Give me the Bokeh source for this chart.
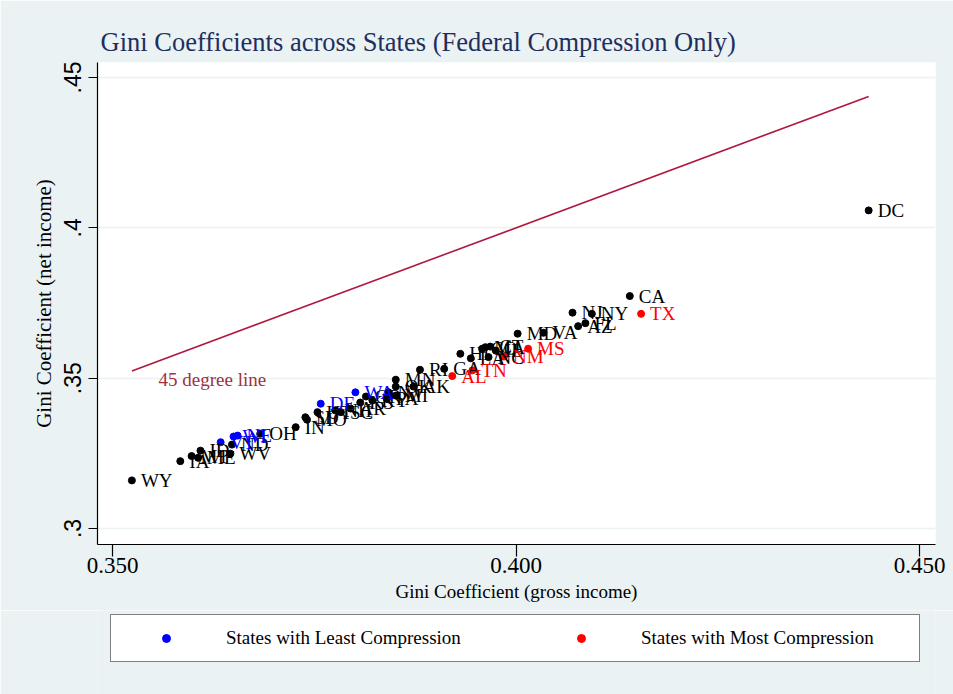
from bokeh.plotting import figure
from bokeh.layouts import column
from bokeh.models import Range1d, FixedTicker, Legend, LegendItem, ColumnDataSource
from bokeh.core.properties import value
from bokeh.embed import file_html
from bokeh.resources import INLINE

# ---------------- data ----------------
states = ["WY", "IA", "MT", "ME", "ID", "WV", "ND", "VT", "WI", "NE",
          "OH", "IN", "SD", "MO", "UT", "DE", "NH", "SC", "AR", "WA",
          "KS", "OR", "KY", "PA", "NV", "MI", "OK", "MN", "AK", "RI",
          "GA", "AL", "TN", "HI", "LA", "NC", "CO", "MA", "CT", "IL",
          "NM", "MS", "MD", "VA", "NJ", "NY", "AZ", "FL", "CA", "TX", "DC"]
gini_gross = [0.3524, 0.3584, 0.3598, 0.3606, 0.3609, 0.3646, 0.3648, 0.3634, 0.3650, 0.3655,
              0.3683, 0.3727, 0.3739, 0.3741, 0.3754, 0.3758, 0.3776, 0.3783, 0.3795, 0.3801,
              0.3807, 0.3814, 0.3822, 0.3840, 0.3842, 0.3851, 0.3851, 0.3851, 0.3873, 0.3881,
              0.3911, 0.3921, 0.3946, 0.3931, 0.3944, 0.3966, 0.3958, 0.3962, 0.3968, 0.3975,
              0.3985, 0.4015, 0.4002, 0.4034, 0.4070, 0.4094, 0.4077, 0.4086, 0.4141, 0.4155, 0.4437]
gini_net = [0.3160, 0.3224, 0.3241, 0.3235, 0.3259, 0.3249, 0.3279, 0.3287, 0.3306, 0.3309,
            0.3315, 0.3337, 0.3370, 0.3362, 0.3387, 0.3415, 0.3393, 0.3387, 0.3399, 0.3453,
            0.3419, 0.3439, 0.3426, 0.3431, 0.3453, 0.3442, 0.3472, 0.3495, 0.3472, 0.3528,
            0.3531, 0.3507, 0.3526, 0.3581, 0.3566, 0.3570, 0.3598, 0.3603, 0.3605, 0.3592,
            0.3572, 0.3598, 0.3648, 0.3651, 0.3718, 0.3714, 0.3673, 0.3683, 0.3773, 0.3714, 0.4058]
least_compression = ["VT", "WI", "NE", "DE", "WA"]
most_compression = ["AL", "TN", "NM", "MS", "TX"]

x_ticks = [0.35, 0.40, 0.45]
x_tick_labels = ["0.350", "0.400", "0.450"]
y_ticks = [0.30, 0.35, 0.40, 0.45]
y_tick_labels = [".3", ".35", ".4", ".45"]

title_text = "Gini Coefficients across States (Federal Compression Only)"
x_title = "Gini Coefficient (gross income)"
y_title = "Gini Coefficient (net income)"
legend_labels = ["States with Least Compression", "States with Most Compression"]
line_label = "45 degree line"

# ---------------- styling ----------------
BG = "#eaf2f3"
SERIF = "Liberation Serif"
SANS = "Liberation Sans"
BLUE = "#0000ff"
RED = "#ff0000"
LINE_C = "#b0173f"


def subset(keep):
    idx = [i for i, s in enumerate(states) if keep(s)]
    return dict(x=[gini_gross[i] for i in idx], y=[gini_net[i] for i in idx],
                state=[states[i] for i in idx])


src_other = ColumnDataSource(subset(lambda s: s not in least_compression and s not in most_compression))
src_least = ColumnDataSource(subset(lambda s: s in least_compression))
src_most = ColumnDataSource(subset(lambda s: s in most_compression))

p = figure(width=953, height=610, output_backend="svg", toolbar_location=None,
           x_range=Range1d(0.34814, 0.45198), y_range=Range1d(0.29468, 0.45499),
           min_border_left=97, min_border_right=18, min_border_top=62, min_border_bottom=66)
p.border_fill_color = BG
p.background_fill_color = "white"
p.outline_line_color = None

# title
p.title.text = title_text
p.title.text_font = SERIF
p.title.text_font_size = "26.5px"
p.title.text_font_style = "normal"
p.title.text_color = "#1e2f5e"
p.title.align = "left"
p.title.offset = 3
p.title.standoff = 12

# grid
p.xgrid.grid_line_color = None
p.ygrid.ticker = FixedTicker(ticks=y_ticks)
p.ygrid.grid_line_color = BG
p.ygrid.grid_line_width = 1.5

# axes
p.xaxis.ticker = FixedTicker(ticks=x_ticks)
p.xaxis.major_label_overrides = {t: l for t, l in zip(x_ticks, x_tick_labels)}
p.yaxis.ticker = FixedTicker(ticks=y_ticks)
p.yaxis.major_label_overrides = {t: l for t, l in zip(y_ticks, y_tick_labels)}
for ax in (p.xaxis, p.yaxis):
    ax.axis_line_color = "black"
    ax.axis_line_width = 1.2
    ax.major_tick_line_color = "black"
    ax.major_tick_line_width = 1.2
    ax.major_tick_in = 0
    ax.minor_tick_line_color = None
    ax.axis_label_text_font = SERIF
    ax.axis_label_text_font_style = "normal"
    ax.axis_label_text_color = "black"
    ax.major_label_text_color = "black"
p.xaxis.major_tick_out = 12
p.yaxis.major_tick_out = 9
p.xaxis.major_label_text_font = SERIF
p.xaxis.major_label_text_font_size = "23px"
p.xaxis.major_label_standoff = 1
p.yaxis.major_label_text_font = SANS
p.yaxis.major_label_text_font_size = "23px"
p.yaxis.major_label_orientation = "vertical"
p.yaxis.major_label_standoff = 7
p.xaxis.axis_label = x_title
p.xaxis.axis_label_text_font_size = "19px"
p.xaxis.axis_label_standoff = 5
p.yaxis.axis_label = y_title
p.yaxis.axis_label_text_font_size = "21px"
p.yaxis.axis_label_standoff = 6

# 45 degree line from the smallest to the largest gross Gini
lo, hi = min(gini_gross), max(gini_gross)
p.line([lo, hi], [lo, hi], line_color=LINE_C, line_width=1.6)
p.text(x=[0.3557], y=[0.3496], text=[line_label], text_font=value(SERIF),
       text_font_size="19px", text_color="#a3303f", text_baseline="middle")

# points and labels
p.scatter("x", "y", source=src_other, size=7, color="black")
p.scatter("x", "y", source=src_least, size=7, color=BLUE)
p.scatter("x", "y", source=src_most, size=7, color=RED)
for src, col in ((src_other, "black"), (src_least, BLUE), (src_most, RED)):
    p.text("x", "y", text="state", source=src, x_offset=9, text_baseline="middle",
           text_font=value(SERIF), text_font_size="19px", text_color=col)

# ---------------- legend strip below the chart ----------------
q = figure(width=953, height=84, output_backend="svg", toolbar_location=None,
           x_range=Range1d(0, 1), y_range=Range1d(0, 1),
           x_axis_type=None, y_axis_type=None,
           min_border_left=0, min_border_right=0, min_border_top=0, min_border_bottom=0)
q.border_fill_color = BG
q.background_fill_color = BG
q.outline_line_color = None
q.grid.visible = False
# key glyphs only (placed outside the visible range)
k_least = q.scatter(x=[5], y=[5], size=7, color=BLUE)
k_most = q.scatter(x=[5], y=[5], size=7, color=RED)

legend = Legend(items=[LegendItem(label=legend_labels[0], renderers=[k_least]),
                       LegendItem(label=legend_labels[1], renderers=[k_most])],
                orientation="horizontal", location=(13, 32))
legend.border_line_color = "black"
legend.border_line_width = 1.2
legend.background_fill_color = "white"
legend.background_fill_alpha = 1
legend.padding = 12
legend.spacing = 46
legend.margin = 0
legend.glyph_width = 86
legend.glyph_height = 20
legend.label_standoff = 17
legend.label_width = 266
legend.label_text_font = SERIF
legend.label_text_font_size = "19px"
legend.label_text_color = "black"
q.add_layout(legend)

layout = column(p, q, spacing=0)
open("out.html", "w").write(file_html(layout, INLINE))
